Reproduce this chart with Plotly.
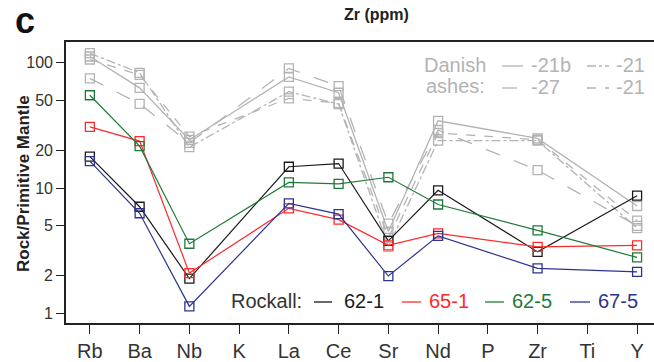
import plotly.graph_objects as go

elements = ["Rb", "Ba", "Nb", "K", "La", "Ce", "Sr", "Nd", "P", "Zr", "Ti", "Y"]

# Rockall samples (None = not analysed; line connects across)
rock_62_1 = [17.8, 7.1, 1.9, None, 14.8, 15.7, 3.8, 9.6, None, 3.1, None, 8.7]
rock_65_1 = [30.8, 23.7, 2.1, None, 6.9, 5.6, 3.5, 4.35, None, 3.4, None, 3.5]
rock_62_5 = [55, 21.6, 3.6, None, 11.1, 10.8, 12.2, 7.4, None, 4.6, None, 2.8]
rock_67_5 = [16.4, 6.3, 1.14, None, 7.55, 6.2, 1.99, 4.16, None, 2.29, None, 2.15]

# Danish ashes
dan_21b = [112, 63, 24.2, None, 77, 57.6, 4.5, 34.4, None, 24.9, None, 7.2]
dan_27 = [75, 47, 22.9, None, 90, 65, 5.2, 29, None, 13.9, None, 5.0]
dan_21_dd = [119, 83, 21.2, None, 58.7, 46.8, 3.4, 23.9, None, 23.9, None, 4.8]
dan_21_d = [106, 80, 25.7, None, 52, 47.5, 4.0, 27.5, None, 24.3, None, 5.5]

y_ticks = [1, 2, 5, 10, 20, 50, 100]

GRAY = "#b3b3b3"
rock_series = [("62-1", rock_62_1, "#1a1a1a"), ("65-1", rock_65_1, "#ff2a2a"),
               ("62-5", rock_62_5, "#1f7a3a"), ("67-5", rock_67_5, "#2b348f")]
dan_series = [("-21b", dan_21b, "solid"), ("-27", dan_27, "longdash"),
              ("-21", dan_21_dd, "dashdot"), ("-21", dan_21_d, "dash")]

fig = go.Figure()
for name, vals, dash in dan_series:
    fig.add_trace(go.Scatter(x=elements, y=vals, mode="lines+markers", connectgaps=True,
                             line=dict(color=GRAY, width=1.3, dash=dash),
                             marker=dict(symbol="square-open", size=9, color=GRAY, line=dict(width=1.3)),
                             name=name, showlegend=False))
for name, vals, col in rock_series:
    fig.add_trace(go.Scatter(x=elements, y=vals, mode="lines+markers", connectgaps=True,
                             line=dict(color=col, width=1.2),
                             marker=dict(symbol="square-open", size=9, color=col, line=dict(width=1.3)),
                             name=name, showlegend=False))

FONT = "Liberation Sans"
L, T, R, B = 66, 42, 654, 323
def px(x):
    return (x - L) / (R - L)
def py(y):
    return (B - y) / (B - T)

ann = []
shapes = []
def text(x, y, s, color, size=20, xanchor="left", bold=False, family=FONT, angle=0):
    ann.append(dict(x=px(x), y=py(y), xref="paper", yref="paper", text=("<b>%s</b>" % s) if bold else s,
                    showarrow=False, xanchor=xanchor, yanchor="middle", textangle=angle,
                    font=dict(family=family, size=size, color=color)))
def seg(x0, x1, y, color, dash="solid"):
    shapes.append(dict(type="line", xref="paper", yref="paper", x0=px(x0), x1=px(x1), y0=py(y), y1=py(y),
                       line=dict(color=color, width=1.3, dash=dash)))

# Danish legend
text(422, 65, "Danish", GRAY)
text(424, 86, "ashes:", GRAY)
seg(502, 523, 66, GRAY, "solid"); text(529, 65, "-21b", GRAY)
seg(587, 609, 66, GRAY, "dashdot"); text(614, 65, "-21", GRAY)
seg(502, 527, 88, GRAY, "longdash"); text(529, 87, "-27", GRAY)
seg(587, 609, 88, GRAY, "dash"); text(614, 87, "-21", GRAY)

# Rockall legend
text(229, 301, "Rockall:", "#333333")
rock_leg = [(314, 332, 342), (402, 421, 427), (485, 504, 510), (570, 590, 596)]
for (name, _, col), (a, b, t) in zip(rock_series, rock_leg):
    seg(a, b, 302, col)
    text(t, 301, name, col)

# Panel letter, title, y-axis title
text(13, 21, "c", "#111111", size=36, bold=True)
text(376, 14, "Zr (ppm)", "#222222", size=16, xanchor="center", bold=True)
text(23.5, 183.5, "Rock/Primitive Mantle", "#222222", size=17, xanchor="center", bold=True, angle=-90)

fig.update_layout(
    width=654, height=362, margin=dict(l=L, r=0, t=T, b=362 - B),
    paper_bgcolor="white", plot_bgcolor="white",
    annotations=ann, shapes=shapes,
    font=dict(family=FONT, color="#333333"),
    xaxis=dict(type="category", range=[-0.48, 11.34], tickmode="array",
               tickvals=elements, ticktext=elements,
               showline=True, linecolor="#222", linewidth=1.6, mirror=True,
               ticks="outside", ticklen=9, tickwidth=1.3, tickcolor="#222",
               tickfont=dict(size=20, color="#333"), showgrid=False, zeroline=False),
    yaxis=dict(type="log", range=[-0.0757, 2.165], tickmode="array", tickvals=y_ticks,
               ticktext=[str(v) for v in y_ticks],
               showline=True, linecolor="#222", linewidth=1.6,
               ticks="outside", ticklen=8, tickwidth=1.3, tickcolor="#222",
               tickfont=dict(size=16, color="#333"), showgrid=False, zeroline=False),
)

fig.write_html("out.html")
